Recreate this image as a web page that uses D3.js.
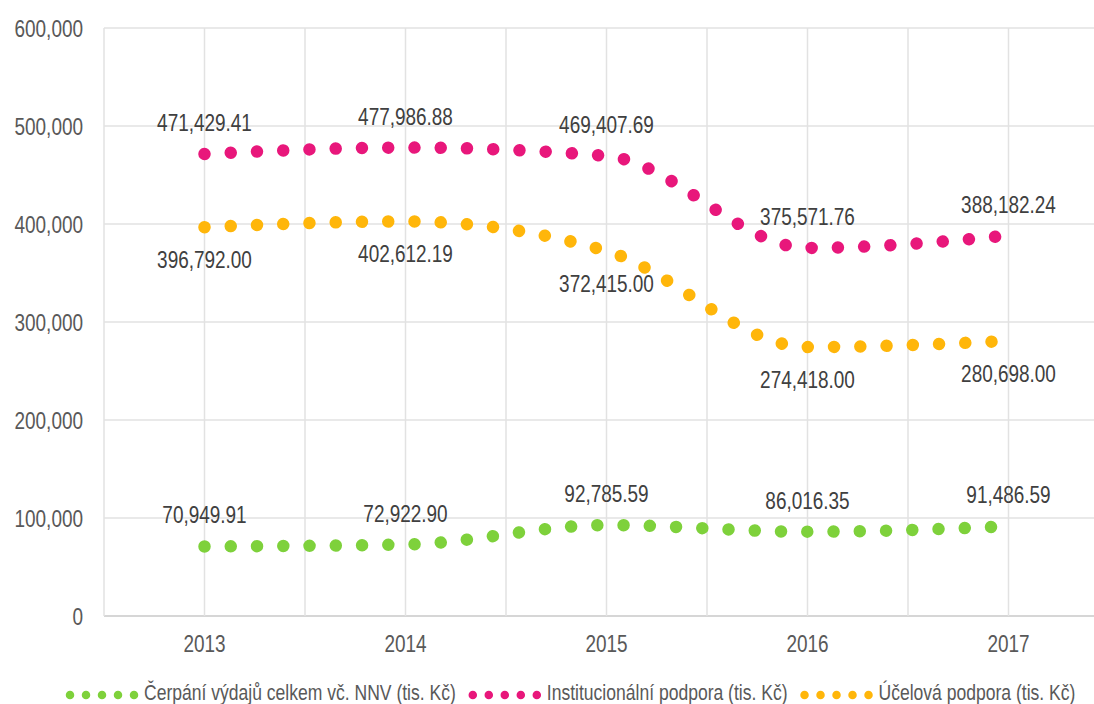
<!DOCTYPE html>
<html><head><meta charset="utf-8">
<script src="https://cdn.jsdelivr.net/npm/d3@7/dist/d3.min.js"></script>
<style>html,body{margin:0;padding:0;background:#fff;overflow:hidden}</style>
</head><body><svg id="c" width="1094" height="704"></svg>
<script>
const years = ["2013", "2014", "2015", "2016", "2017"];
const cerpani = [70949.91, 72922.90, 92785.59, 86016.35, 91486.59];
const instit = [471429.41, 477986.88, 469407.69, 375571.76, 388182.24];
const ucelova = [396792.00, 402612.19, 372415.00, 274418.00, 280698.00];
const yTicks = [0, 100000, 200000, 300000, 400000, 500000, 600000];
const seriesNames = ["Čerpání výdajů celkem vč. NNV (tis. Kč)", "Institucionální podpora (tis. Kč)", "Účelová podpora (tis. Kč)"];

(function () {
const colors = ["#7ED13B", "#E8177B", "#FFB60A"];
const series = [
  {name: seriesNames[0], values: cerpani, color: colors[0], pos: "above"},
  {name: seriesNames[1], values: instit, color: colors[1], pos: "above"},
  {name: seriesNames[2], values: ucelova, color: colors[2], pos: "below"}
];

const svg = d3.select("#c");
const FONT = "'Liberation Sans', Arial, sans-serif";
const SX = 0.79;
const pLeft = 104, pTop = 28, pBottom = 616;
const x = d3.scaleBand().domain(years).range([pLeft, pLeft + 5 * 201]).padding(0);
const bw = x.bandwidth();
const cx = d => x(d) + bw / 2;
const y = d3.scaleLinear().domain([0, 600000]).range([pBottom, pTop]);

function txt(g, px, py, s, anchor, size, color) {
  return g.append("text")
    .attr("transform", `translate(${px},${py}) scale(${SX},1)`)
    .attr("text-anchor", anchor)
    .attr("font-family", FONT)
    .attr("font-size", size)
    .attr("fill", color)
    .text(s);
}

const grid = svg.append("g");
yTicks.forEach(t => {
  grid.append("line").attr("x1", pLeft).attr("x2", pLeft + 5 * bw)
    .attr("y1", y(t)).attr("y2", y(t))
    .attr("stroke", t === 0 ? "#D6D6D6" : "#E2E2E2").attr("stroke-width", t === 0 ? 2 : 1.5);
});
years.forEach(d => {
  [x(d), x(d) + bw / 2].forEach(xx => {
    grid.append("line").attr("x1", xx).attr("x2", xx)
      .attr("y1", y(600000)).attr("y2", y(0))
      .attr("stroke", "#E2E2E2").attr("stroke-width", 1.5);
  });
});

const fmtY = d3.format(",");
yTicks.forEach(t => txt(svg, 83, y(t) + 8.5, fmtY(t), "end", 24, "#595959"));
years.forEach(d => txt(svg, cx(d), 652, d, "middle", 24, "#595959"));

const line = d3.line().x((v, i) => cx(years[i])).y(v => y(v)).curve(d3.curveMonotoneX);
series.forEach(s => {
  svg.append("path").attr("d", line(s.values))
    .attr("fill", "none").attr("stroke", s.color)
    .attr("stroke-width", 12.5).attr("stroke-linecap", "round")
    .attr("stroke-dasharray", "0.01 26.25");
});

const fmtL = d3.format(",.2f");
series.forEach(s => {
  s.values.forEach((v, i) => {
    const py = s.pos === "above" ? y(v) - 23 : y(v) + 41;
    txt(svg, cx(years[i]), py, fmtL(v), "middle", 24, "#404040");
  });
});

const lg = svg.append("g");
let lx = 70;
const ly = 695;
series.forEach(s => {
  lg.append("line").attr("x1", lx).attr("x2", lx + 65).attr("y1", ly).attr("y2", ly)
    .attr("stroke", s.color).attr("stroke-width", 8.5).attr("stroke-linecap", "round")
    .attr("stroke-dasharray", "0.01 15.99");
  const t = txt(lg, lx + 74, ly + 5, s.name, "start", 22.2, "#595959");
  const w = t.node().getComputedTextLength() * SX;
  lx = lx + 74 + w + 17;
});
})();
</script></body></html>
